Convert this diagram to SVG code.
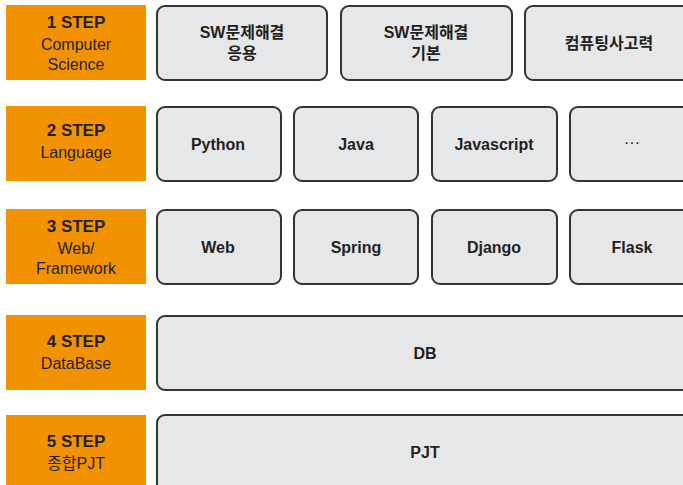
<svg xmlns="http://www.w3.org/2000/svg" width="683" height="485" viewBox="0 0 683 485">
<style>
.step{fill:#f39200}
.box{fill:#e6e7e9;stroke:#333;stroke-width:2}
text{font-family:"Liberation Sans","Noto Sans CJK KR",sans-serif;fill:#231f20;text-anchor:middle}
.h{font-size:17px;font-weight:bold}
.s{font-size:16px}
.b{font-size:16px;font-weight:bold}
</style>
<rect width="683" height="485" fill="#fff"/>
<g id="step1"><rect class="step" x="6" y="5" width="140" height="75"/>
<text class="h" x="76" y="28">1 STEP</text><text class="s" x="76" y="50">Computer</text><text class="s" x="76" y="70">Science</text></g>
<g id="step2"><rect class="step" x="6" y="106" width="140" height="75"/>
<text class="h" x="76" y="136">2 STEP</text><text class="s" x="76" y="158">Language</text></g>
<g id="step3"><rect class="step" x="6" y="209" width="140" height="75"/>
<text class="h" x="76" y="232">3 STEP</text><text class="s" x="76" y="254">Web/</text><text class="s" x="76" y="274">Framework</text></g>
<g id="step4"><rect class="step" x="6" y="315" width="140" height="75"/>
<text class="h" x="76" y="347">4 STEP</text><text class="s" x="76" y="369">DataBase</text></g>
<g id="step5"><rect class="step" x="6" y="415" width="140" height="75"/>
<text class="h" x="76" y="447">5 STEP</text><text class="s" x="76" y="469">종합PJT</text></g>

<g id="sw-apply"><rect class="box" x="157" y="6" width="170" height="74" rx="8"/>
<text class="b" x="242" y="38">SW문제해결</text><text class="b" x="242" y="59">응용</text></g>
<g id="sw-basic"><rect class="box" x="341" y="6" width="171" height="74" rx="8"/>
<text class="b" x="426" y="38">SW문제해결</text><text class="b" x="426" y="59">기본</text></g>
<g id="ct"><rect class="box" x="525" y="6" width="170" height="74" rx="8"/>
<text class="b" x="609" y="49">컴퓨팅사고력</text></g>

<g id="python"><rect class="box" x="157" y="107" width="124" height="74" rx="8"/><text class="b" x="218" y="150">Python</text></g>
<g id="java"><rect class="box" x="294" y="107" width="124" height="74" rx="8"/><text class="b" x="356" y="150">Java</text></g>
<g id="javascript"><rect class="box" x="432" y="107" width="125" height="74" rx="8"/><text class="b" x="494" y="150">Javascript</text></g>
<g id="etc"><rect class="box" x="570" y="107" width="130" height="74" rx="8"/><text class="s" x="632" y="148">···</text></g>

<g id="web"><rect class="box" x="157" y="210" width="124" height="74" rx="8"/><text class="b" x="218" y="253">Web</text></g>
<g id="spring"><rect class="box" x="294" y="210" width="124" height="74" rx="8"/><text class="b" x="356" y="253">Spring</text></g>
<g id="django"><rect class="box" x="432" y="210" width="125" height="74" rx="8"/><text class="b" x="494" y="253">Django</text></g>
<g id="flask"><rect class="box" x="570" y="210" width="130" height="74" rx="8"/><text class="b" x="632" y="253">Flask</text></g>

<g id="db"><rect class="box" x="157" y="316" width="540" height="74" rx="8"/><text class="b" x="425" y="359">DB</text></g>
<g id="pjt"><rect class="box" x="157" y="415" width="540" height="80" rx="8"/><text class="b" x="425" y="458">PJT</text></g>
<g id="connectors"/>
</svg>
